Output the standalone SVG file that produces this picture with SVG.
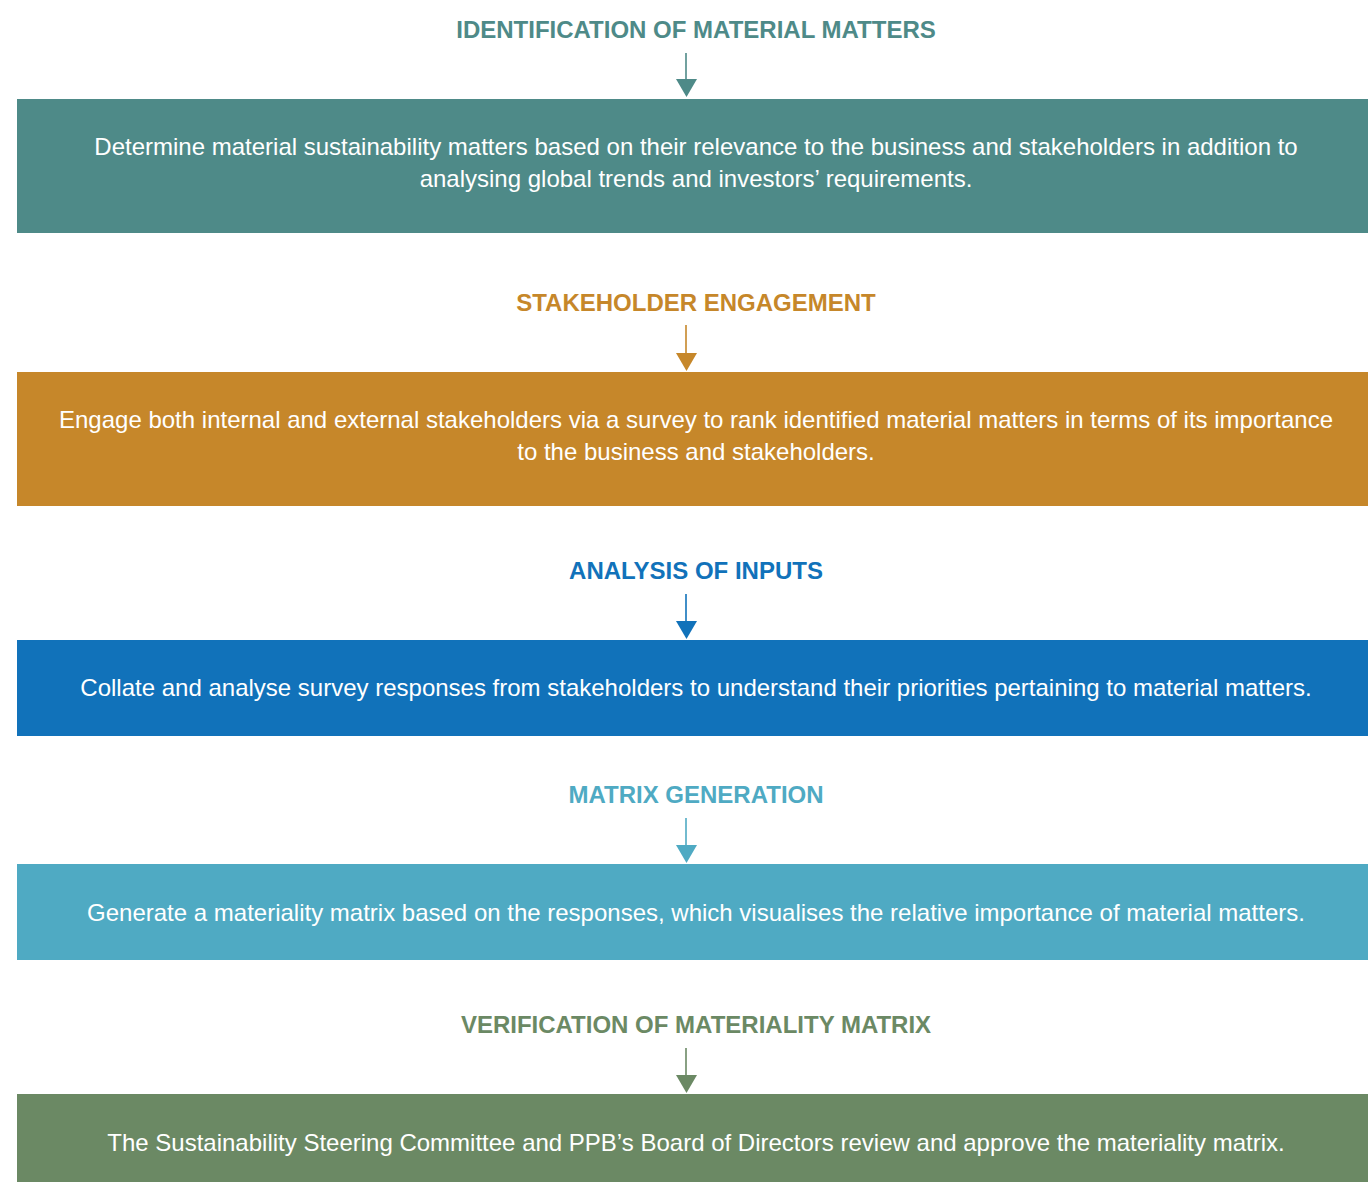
<svg xmlns="http://www.w3.org/2000/svg" width="1368" height="1182" viewBox="0 0 1368 1182">
  <style>
    .title { font-family: "Liberation Sans", Arial, sans-serif; font-weight: bold; font-size: 24px; text-anchor: middle; }
    .body { font-family: "Liberation Sans", Arial, sans-serif; font-size: 24px; fill: #ffffff; text-anchor: middle; }
    .teal { fill: #4E8A88; }
    .orange { fill: #C6872A; }
    .blue { fill: #1172BA; }
    .sky { fill: #4FAAC3; }
    .green { fill: #6B8964; }
  </style>
  <rect width="1368" height="1182" fill="#ffffff"/>

  <!-- connectors: stem plus solid triangular head -->
  <g id="connectors">
    <line x1="686" y1="53" x2="686" y2="81" stroke="#4E8A88" stroke-width="1.6"/>
    <polygon points="676,79 697,79 686.5,97" fill="#4E8A88"/>
    <line x1="686" y1="325" x2="686" y2="355" stroke="#C6872A" stroke-width="1.6"/>
    <polygon points="676,353 697,353 686.5,371" fill="#C6872A"/>
    <line x1="686" y1="594" x2="686" y2="623" stroke="#1172BA" stroke-width="1.6"/>
    <polygon points="676,621 697,621 686.5,639" fill="#1172BA"/>
    <line x1="686" y1="818" x2="686" y2="847" stroke="#4FAAC3" stroke-width="1.6"/>
    <polygon points="676,845 697,845 686.5,863" fill="#4FAAC3"/>
    <line x1="686" y1="1048" x2="686" y2="1077" stroke="#6B8964" stroke-width="1.6"/>
    <polygon points="676,1075 697,1075 686.5,1093" fill="#6B8964"/>
  </g>

  <g id="step-identification">
    <text class="title teal" x="696" y="38">IDENTIFICATION OF MATERIAL MATTERS</text>
    <rect class="teal" x="17" y="99" width="1351" height="134"/>
    <text class="body" x="696" y="155">Determine material sustainability matters based on their relevance to the business and stakeholders in addition to</text>
    <text class="body" x="696" y="187">analysing global trends and investors’ requirements.</text>
  </g>

  <g id="step-engagement">
    <text class="title orange" x="696" y="311">STAKEHOLDER ENGAGEMENT</text>
    <rect class="orange" x="17" y="372" width="1351" height="134"/>
    <text class="body" x="696" y="428">Engage both internal and external stakeholders via a survey to rank identified material matters in terms of its importance</text>
    <text class="body" x="696" y="460">to the business and stakeholders.</text>
  </g>

  <g id="step-analysis">
    <text class="title blue" x="696" y="579">ANALYSIS OF INPUTS</text>
    <rect class="blue" x="17" y="640" width="1351" height="96"/>
    <text class="body" x="696" y="696">Collate and analyse survey responses from stakeholders to understand their priorities pertaining to material matters.</text>
  </g>

  <g id="step-matrix">
    <text class="title sky" x="696" y="803">MATRIX GENERATION</text>
    <rect class="sky" x="17" y="864" width="1351" height="96"/>
    <text class="body" x="696" y="921">Generate a materiality matrix based on the responses, which visualises the relative importance of material matters.</text>
  </g>

  <g id="step-verification">
    <text class="title green" x="696" y="1033">VERIFICATION OF MATERIALITY MATRIX</text>
    <rect class="green" x="17" y="1094" width="1351" height="88"/>
    <text class="body" x="696" y="1151">The Sustainability Steering Committee and PPB’s Board of Directors review and approve the materiality matrix.</text>
  </g>
</svg>
